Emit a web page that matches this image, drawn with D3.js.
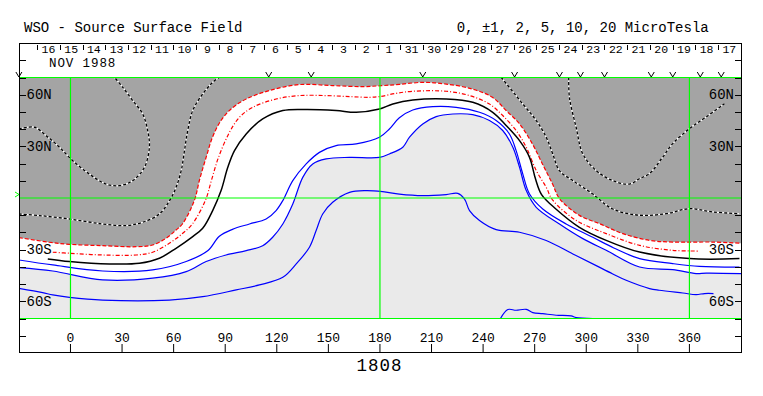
<!DOCTYPE html>
<html>
<head>
<meta charset="utf-8">
<script src="https://cdn.jsdelivr.net/npm/d3@7"></script>
<style>
  body { margin: 0; background: #fff; }
  text { font-family: "Liberation Mono", "DejaVu Sans Mono", monospace; fill: #000; }
</style>
</head>
<body>
<script>
// contour lines, [carrington longitude, latitude]
var negOuter = [[-30,-23.0],[-12.3,-25.7],[-0.6,-26.9],[18.7,-27.7],[38.2,-28.3],[47.8,-27.3],[55.6,-23.4],[61.4,-18.6],[65.1,-15.1],[72.1,-1.3],[75,10.3],[78.9,23.6],[82.6,35.3],[87.6,45.1],[93.4,51.7],[102.2,57.5],[115.7,62.4],[133.2,65.9],[152.4,65.3],[169.8,64.7],[181.5,65.3],[191.3,66],[204.7,67.2],[218.5,66.2],[233.8,63.3],[245.4,58.5],[253.4,50.8],[261.2,43],[268.7,31.4],[274.5,19.8],[280.4,8.1],[284.4,-0.3],[296,-10.1],[307.7,-14.9],[321.3,-20.7],[336.8,-24.6],[350.3,-25.6],[373.6,-25.6],[390,-26.3]];
var negInner = [[-10.3,-31.5],[-0.6,-32.1],[18.7,-33.1],[38.2,-33.1],[47.8,-31.5],[57.5,-26.3],[65.3,-20.5],[70.9,-15.1],[78.5,-1.3],[82,10.3],[86.1,23.6],[92.5,38.2],[98.3,46.9],[106,52.7],[119.6,57.5],[133.2,59.5],[148.7,59.5],[162.3,58.9],[173.9,58.5],[179.7,58.9],[189.4,60.8],[199.1,62],[218.5,62],[232.1,59.5],[243.7,54.6],[251.4,47.9],[259.2,39.2],[265.1,29.5],[270.9,15.9],[276.7,6.2],[280.5,-1.3],[294.1,-13],[311.6,-20.7],[331,-27.5],[350.3,-30.4],[365.8,-30.8]];
var neutralLine = [[-13.2,-35.4],[-0.6,-36.9],[22.6,-38.3],[40.1,-37.9],[51.7,-35],[61.4,-29.2],[71.1,-22.4],[76.9,-17.6],[82.7,-7.3],[87.6,4.3],[91.5,17.8],[95.4,27.5],[102.2,37.2],[111.8,45.9],[123.5,50.8],[137.1,51.4],[154.5,50.8],[166.2,49.8],[179.7,51.7],[187.5,54.6],[199.1,56.9],[218.5,57.5],[234,55.6],[245.6,49.8],[253.4,42.1],[261.2,33.3],[267,23.6],[270.5,11],[274,2],[282.5,-6.5],[296,-17],[311.6,-24.6],[331,-31.4],[360,-35.2],[389.1,-35.2]];
var pos1 = [[-30,-36],[-10.3,-38.9],[18.7,-42.4],[47.8,-41.8],[67.3,-36.9],[80,-30.5],[86.6,-22.2],[94.2,-18.2],[104.1,-15.1],[113.8,-12.2],[119.6,-7.3],[123.5,-1.5],[129.3,10.1],[137.1,19.8],[144.8,26.5],[154.5,30.4],[166.2,31.4],[179.7,35.3],[185.5,40.1],[191.3,46.6],[199.1,51.1],[210.7,53.1],[224.3,52.7],[237.9,49.8],[247.6,45],[255.3,37.2],[259.2,27.5],[263.1,13.9],[267,2.3],[274.7,-6.4],[288.3,-15.1],[303.8,-22.8],[316,-29],[331,-35.2],[350.3,-38.1],[365.8,-39.7],[389.1,-40.1]];
var pos2 = [[-30,-40.4],[-10.3,-42.4],[18.7,-47.6],[47.8,-46.6],[67.3,-42.8],[78.9,-36.9],[90.5,-33.1],[102.2,-30.6],[111.8,-27.7],[117.6,-22.8],[123.5,-15.1],[129.3,-3.5],[135.1,12],[140.9,19.8],[148.7,22.7],[162.3,23.6],[179.7,23.6],[185.5,25.6],[193.3,29.5],[197.2,35.3],[204.9,43],[212.7,47.3],[222.4,48.8],[234,48.4],[243.7,45],[251.4,39.2],[257.3,29.5],[261.2,17.8],[265.1,4.3],[270.9,-5.4],[284.4,-15.1],[298,-23.6],[311.6,-30.4],[331,-40.1],[350.3,-41.6],[363.9,-43.9],[369.8,-43.6],[390,-43.9]];
var pos5 = [[-30,-52.5],[-16.2,-55],[-10.3,-56.3],[-0.6,-57.7],[18.7,-59.3],[57.5,-59.3],[76.9,-57.3],[96.4,-53.4],[109.9,-50.5],[123.5,-46.1],[131.3,-38.3],[139,-28.6],[142.9,-18.9],[146.7,-9.3],[152.5,-2.5],[162.3,3.3],[172,4.3],[181.6,3.7],[191.3,2.3],[204.9,1.4],[218.5,2],[225.3,2.7],[229.2,-0.6],[232.1,-7.3],[237.9,-13.1],[247.6,-18.4],[261.2,-19.9],[276.7,-24.7],[292.2,-32.5],[305.8,-39.3],[315.4,-44.1],[323.2,-47.8],[336.8,-52.6],[342.4,-53.6],[356.2,-55.2],[363.9,-56.1],[368.8,-55.5],[374,-55.5]];
var pos10 = [[250.1,-70],[254.4,-64.8],[259.2,-65.2],[265.1,-64.7],[268.9,-66.6],[274.7,-67.2],[282.5,-68.1],[291.2,-68.5],[294.1,-69.5],[303.8,-70]];
var negA = [[-30,40.1],[-21,41.1],[-14.2,36.2],[-6.4,29.5],[1.3,21.7],[11,13.9],[20.7,8.1],[28.5,7.2],[36.2,10.1],[43,17.8],[45.9,29.5],[44.9,39.2],[42,48.8],[36.2,56.6],[30.4,64.3],[25.6,70.1]];
var negB = [[-30,-9.3],[-18.1,-10.2],[-0.6,-12.2],[18.7,-15.1],[32.4,-16],[42,-14.1],[51.7,-9.3],[57.6,-1.5],[61.4,6.2],[64.4,15.9],[66.3,27.5],[68.2,39.2],[71.1,50.8],[76.9,60.4],[82.7,67.2],[86.6,70.1]];
var negC = [[250.5,70.1],[263.1,54.6],[270.9,45],[276.7,35.3],[280.5,25.6],[284.4,15.9],[292.2,10.1],[303.8,2.3],[315.4,-6.4],[331,-10],[346.5,-9.1],[360,-6.2],[373.6,-8.1],[389.1,-9.1]];
var negD = [[289.8,70.1],[290.2,58.5],[294.1,41.1],[298,25.6],[305.8,15.9],[315.4,10.1],[325.1,8.1],[331,11.3],[336.8,14.2],[344.5,23.8],[350.3,31.6],[360,40.3],[369.8,47.1],[380.4,54.8]];

// axis labels
var lonTicks = [0, 30, 60, 90, 120, 150, 180, 210, 240, 270, 300, 330, 360];
var latLabels = [[60, "60N"], [30, "30N"], [-30, "30S"], [-60, "60S"]];
var latTicks = [-80, -70, -60, -50, -40, -30, -20, -10, 10, 20, 30, 40, 50, 60, 70, 80];
var gridLons = [0, 180, 360];
var gridLats = [70, 0, -70];
var dayLabels = ["16","15","14","13","12","11","10","9","8","7","6","5","4","3","2","1","31","30","29","28","27","26","25","24","23","22","21","20","19","18","17"];
var dayStartLon = -19.4, dayStepLon = 13.2;
var markLons = [-30, 115.3, 140, 204.9, 258.3, 284.4, 296.6, 310.6, 337.8, 350.3, 366.3, 378.5];

var width = 763, height = 396;
var svg = d3.select("body").append("svg")
    .attr("width", width)
    .attr("height", height);

var x = d3.scaleLinear().domain([-30, 390]).range([18.9, 741]);
var y = d3.scaleLinear().domain([70, -70]).range([77.5, 318.5]);

var curve = d3.curveCatmullRom.alpha(0.5);

svg.append("clipPath").attr("id", "plotClip")
  .append("rect")
    .attr("x", 19.5).attr("y", y(70))
    .attr("width", 741.5 - 19.5).attr("height", y(-70) - y(70));

var plot = svg.append("g").attr("clip-path", "url(#plotClip)");

// polarity shading
plot.append("path")
    .datum(negOuter)
    .attr("fill", "#a4a4a4")
    .attr("d", d3.area().curve(curve)
        .x(function(d){ return x(d[0]); })
        .y0(y(70))
        .y1(function(d){ return y(d[1]); }));

plot.append("path")
    .datum(pos2)
    .attr("fill", "#eaeaea")
    .attr("d", d3.area().curve(curve)
        .x(function(d){ return x(d[0]); })
        .y0(y(-70))
        .y1(function(d){ return y(d[1]); }));

// green grid
gridLons.forEach(function(l){
    svg.append("line")
        .attr("x1", x(l)).attr("x2", x(l))
        .attr("y1", y(70)).attr("y2", y(-70))
        .attr("stroke", "#00ff00").attr("stroke-width", 1.2);
});
gridLats.forEach(function(l){
    svg.append("line")
        .attr("x1", 19.5).attr("x2", 741)
        .attr("y1", y(l)).attr("y2", y(l))
        .attr("stroke", "#00ff00").attr("stroke-width", 1.2);
});

var line = d3.line().curve(curve)
    .x(function(d){ return x(d[0]); })
    .y(function(d){ return y(d[1]); });

// strong negative contours, black and white dashes
[negA, negB, negC, negD].forEach(function(c){
    plot.append("path").datum(c)
        .attr("fill", "none").attr("stroke", "#fff").attr("stroke-width", 1.3)
        .attr("d", line);
    plot.append("path").datum(c)
        .attr("fill", "none").attr("stroke", "#000").attr("stroke-width", 1.3)
        .attr("stroke-dasharray", "3,2")
        .attr("d", line);
});

plot.append("path").datum(negOuter)
    .attr("fill", "none").attr("stroke", "#ff0000").attr("stroke-width", 1.2)
    .attr("stroke-dasharray", "4,2")
    .attr("d", line);

plot.append("path").datum(negInner)
    .attr("fill", "none").attr("stroke", "#ff0000").attr("stroke-width", 1.2)
    .attr("stroke-dasharray", "4,2,1,2")
    .attr("d", line);

plot.append("path").datum(neutralLine)
    .attr("fill", "none").attr("stroke", "#000").attr("stroke-width", 1.5)
    .attr("d", line);

[pos1, pos2, pos5, pos10].forEach(function(c){
    plot.append("path").datum(c)
        .attr("fill", "none").attr("stroke", "#0000ff").attr("stroke-width", 1.2)
        .attr("d", line);
});

// frame
svg.append("rect")
    .attr("x", 19.5).attr("y", 43.5)
    .attr("width", 741.5 - 19.5).attr("height", 352.5 - 43.5)
    .attr("fill", "none").attr("stroke", "#000").attr("stroke-width", 1);

// latitude ticks and labels
latTicks.forEach(function(l){
    svg.append("line")
        .attr("x1", 19.5).attr("x2", 26)
        .attr("y1", Math.round(y(l)) + 0.5).attr("y2", Math.round(y(l)) + 0.5)
        .attr("stroke", "#000");
    svg.append("line")
        .attr("x1", 735).attr("x2", 741.5)
        .attr("y1", Math.round(y(l)) + 0.5).attr("y2", Math.round(y(l)) + 0.5)
        .attr("stroke", "#000");
});
latLabels.forEach(function(d){
    svg.append("text")
        .attr("x", 26.5).attr("y", y(d[0]) + 4.5)
        .style("font-size", "14px")
        .text(d[1]);
    svg.append("text")
        .attr("x", 734).attr("y", y(d[0]) + 4.5)
        .attr("text-anchor", "end")
        .style("font-size", "14px")
        .text(d[1]);
});

svg.append("path")
    .attr("d", "M15,192L19,194.5L15,197")
    .attr("fill", "none").attr("stroke", "#00ff00");

// longitude axis
lonTicks.forEach(function(l){
    svg.append("line")
        .attr("x1", x(l)).attr("x2", x(l))
        .attr("y1", 344).attr("y2", 352.5)
        .attr("stroke", "#000");
    svg.append("text")
        .attr("x", x(l)).attr("y", 342)
        .attr("text-anchor", "middle")
        .style("font-size", "13px")
        .text(l);
});

// day of month row
dayLabels.forEach(function(lab, i){
    var t = dayStartLon + i * dayStepLon;
    svg.append("line")
        .attr("x1", Math.round(x(t)) + 0.5).attr("x2", Math.round(x(t)) + 0.5)
        .attr("y1", 45).attr("y2", 50)
        .attr("stroke", "#000");
    svg.append("text")
        .attr("x", x(t + dayStepLon / 2)).attr("y", 53)
        .attr("text-anchor", "middle")
        .style("font-size", "11.5px")
        .text(lab);
});

markLons.forEach(function(l){
    var cx = x(l);
    svg.append("path")
        .attr("d", "M" + (cx - 3) + ",72L" + cx + ",77L" + (cx + 3) + ",72")
        .attr("fill", "none").attr("stroke", "#000");
});

svg.append("text")
    .attr("x", 49).attr("y", 67.3)
    .style("font-size", "12.5px")
    .style("letter-spacing", "0.9px")
    .text("NOV 1988");

svg.append("text")
    .attr("x", 24).attr("y", 32)
    .style("font-size", "14px")
    .text("WSO - Source Surface Field");

svg.append("text")
    .attr("x", 456.7).attr("y", 32)
    .style("font-size", "14px")
    .text("0, \u00b11, 2, 5, 10, 20 MicroTesla");

svg.append("text")
    .attr("x", 379.5).attr("y", 371)
    .attr("text-anchor", "middle")
    .style("font-size", "17.5px")
    .style("letter-spacing", "1px")
    .text("1808");
</script>
</body>
</html>
